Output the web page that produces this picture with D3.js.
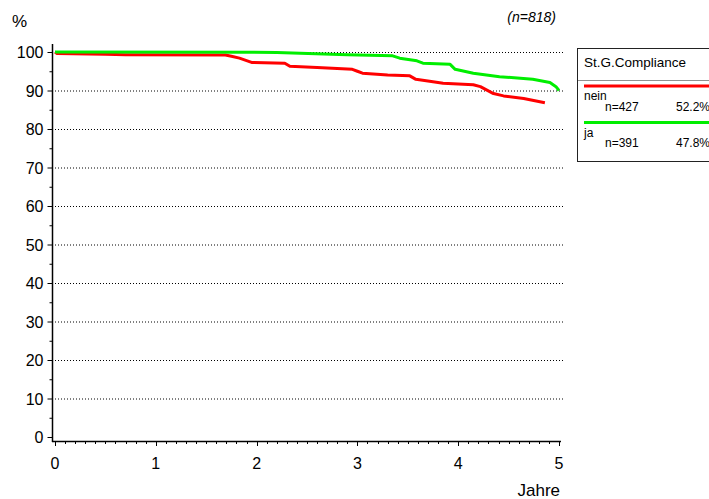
<!DOCTYPE html>
<html>
<head>
<meta charset="utf-8">
<script src="https://cdn.jsdelivr.net/npm/d3@7"></script>
<style>
  html, body { margin: 0; padding: 0; background: #fff; }
  svg { display: block; font-family: "Liberation Sans", Arial, Helvetica, sans-serif; }
</style>
</head>
<body>
<svg id="chart" width="709" height="499"></svg>
<script>
// Kaplan-Meier style survival curves, in years vs percent
const neinYears  = [0, 0.02, 0.5, 0.7, 1.69, 1.75, 1.83, 1.95, 2.28, 2.33, 2.6, 2.95, 3.0, 3.05, 3.3, 3.52, 3.58, 3.75, 3.85, 4.15, 4.22, 4.35, 4.45, 4.65, 4.86];
const neinValues = [100, 99.6, 99.4, 99.3, 99.2, 98.9, 98.4, 97.3, 97.1, 96.3, 96.0, 95.5, 95.0, 94.5, 94.0, 93.8, 92.9, 92.3, 91.9, 91.5, 91.0, 89.2, 88.6, 87.9, 86.8];
const jaYears    = [0, 2.2, 2.9, 3.35, 3.42, 3.59, 3.65, 3.92, 3.97, 4.15, 4.41, 4.74, 4.91, 4.97, 5.0];
const jaValues   = [100, 99.9, 99.3, 99.0, 98.4, 97.7, 97.1, 96.8, 95.5, 94.5, 93.6, 92.9, 92.1, 91.0, 90.0];

const yTicks = [0, 10, 20, 30, 40, 50, 60, 70, 80, 90, 100];
const xTicks = [0, 1, 2, 3, 4, 5];

const legendTitle = "St.G.Compliance";
const groups = [
  { name: "nein", n: "n=427", pct: "52.2%", color: "#ff0000", years: neinYears, values: neinValues },
  { name: "ja",   n: "n=391", pct: "47.8%", color: "#00ee00", years: jaYears,   values: jaValues }
];

const svg = d3.select("#chart");

const x = d3.scaleLinear().domain([0, 5]).range([55, 559]);
const y = d3.scaleLinear().domain([0, 100]).range([437, 52]);

// dotted horizontal grid lines
svg.append("g")
  .selectAll("line")
  .data(yTicks.filter(d => d > 0))
  .join("line")
  .attr("x1", 52).attr("x2", 563)
  .attr("y1", d => y(d) + 0.5).attr("y2", d => y(d) + 0.5)
  .attr("stroke", "#000")
  .attr("stroke-width", 1)
  .attr("stroke-dasharray", "1,2");

// y axis
const yAxis = svg.append("g").attr("transform", "translate(52.5,0)");
yAxis.append("line").attr("x1", 0).attr("x2", 0).attr("y1", 44).attr("y2", 442).attr("stroke", "#000").attr("stroke-width", 1.5);
yAxis.selectAll("line.major").data(yTicks).join("line").attr("class", "major")
  .attr("x1", -5).attr("x2", 0).attr("y1", d => y(d) + 0.5).attr("y2", d => y(d) + 0.5)
  .attr("stroke", "#000");
yAxis.selectAll("line.minor").data(d3.range(5, 100, 10)).join("line").attr("class", "minor")
  .attr("x1", -3).attr("x2", 0).attr("y1", d => y(d) + 0.5).attr("y2", d => y(d) + 0.5)
  .attr("stroke", "#000");
yAxis.selectAll("text").data(yTicks).join("text")
  .attr("x", -9).attr("y", d => y(d) + 6)
  .attr("text-anchor", "end")
  .attr("font-size", 16)
  .text(d => d);

// x axis
const xAxis = svg.append("g");
xAxis.append("line").attr("x1", 52).attr("x2", 561).attr("y1", 441.5).attr("y2", 441.5).attr("stroke", "#000").attr("stroke-width", 1.5);
xAxis.selectAll("line.minor").data(d3.range(0, 51).map(i => i / 10)).join("line").attr("class", "minor")
  .attr("x1", d => Math.round(x(d)) + 0.5).attr("x2", d => Math.round(x(d)) + 0.5)
  .attr("y1", 441).attr("y2", 444)
  .attr("stroke", "#000");
xAxis.selectAll("line.major").data(xTicks).join("line").attr("class", "major")
  .attr("x1", d => Math.round(x(d)) + 0.5).attr("x2", d => Math.round(x(d)) + 0.5)
  .attr("y1", 441).attr("y2", 446)
  .attr("stroke", "#000");
xAxis.selectAll("text").data(xTicks).join("text")
  .attr("x", d => x(d)).attr("y", 469)
  .attr("text-anchor", "middle")
  .attr("font-size", 16)
  .text(d => d);

// axis titles and annotations
svg.append("text").attr("x", 12).attr("y", 27).attr("font-size", 17).text("%");
svg.append("text").attr("x", 560).attr("y", 496).attr("text-anchor", "end").attr("font-size", 17).text("Jahre");
svg.append("text").attr("x", 556).attr("y", 22).attr("text-anchor", "end").attr("font-size", 14).attr("font-style", "italic").text("(n=818)");

// survival curves
const line = d3.line().x(d => x(d[0])).y(d => y(d[1])).curve(d3.curveLinear);
groups.forEach(g => {
  svg.append("path")
    .datum(d3.zip(g.years, g.values))
    .attr("fill", "none")
    .attr("stroke", g.color)
    .attr("stroke-width", 3)
    .attr("stroke-linejoin", "round")
    .attr("d", line);
});

// legend
const lg = svg.append("g");
lg.append("rect").attr("x", 577.5).attr("y", 48.5).attr("width", 140).attr("height", 113)
  .attr("fill", "none").attr("stroke", "#222").attr("stroke-width", 1);
lg.append("line").attr("x1", 577.5).attr("x2", 709).attr("y1", 80.5).attr("y2", 80.5)
  .attr("stroke", "#222").attr("stroke-dasharray", "1,1");
lg.append("text").attr("x", 584).attr("y", 67).attr("font-size", 13.5).text(legendTitle);
groups.forEach((g, i) => {
  const top = 86 + i * 36.5;
  lg.append("line").attr("x1", 584).attr("x2", 709).attr("y1", top).attr("y2", top)
    .attr("stroke", g.color).attr("stroke-width", 3);
  lg.append("text").attr("x", 584).attr("y", top + 14).attr("font-size", 12).text(g.name);
  lg.append("text").attr("x", 605).attr("y", top + 24.5).attr("font-size", 12).text(g.n);
  lg.append("text").attr("x", 676).attr("y", top + 24.5).attr("font-size", 12).text(g.pct);
});
</script>
</body>
</html>
